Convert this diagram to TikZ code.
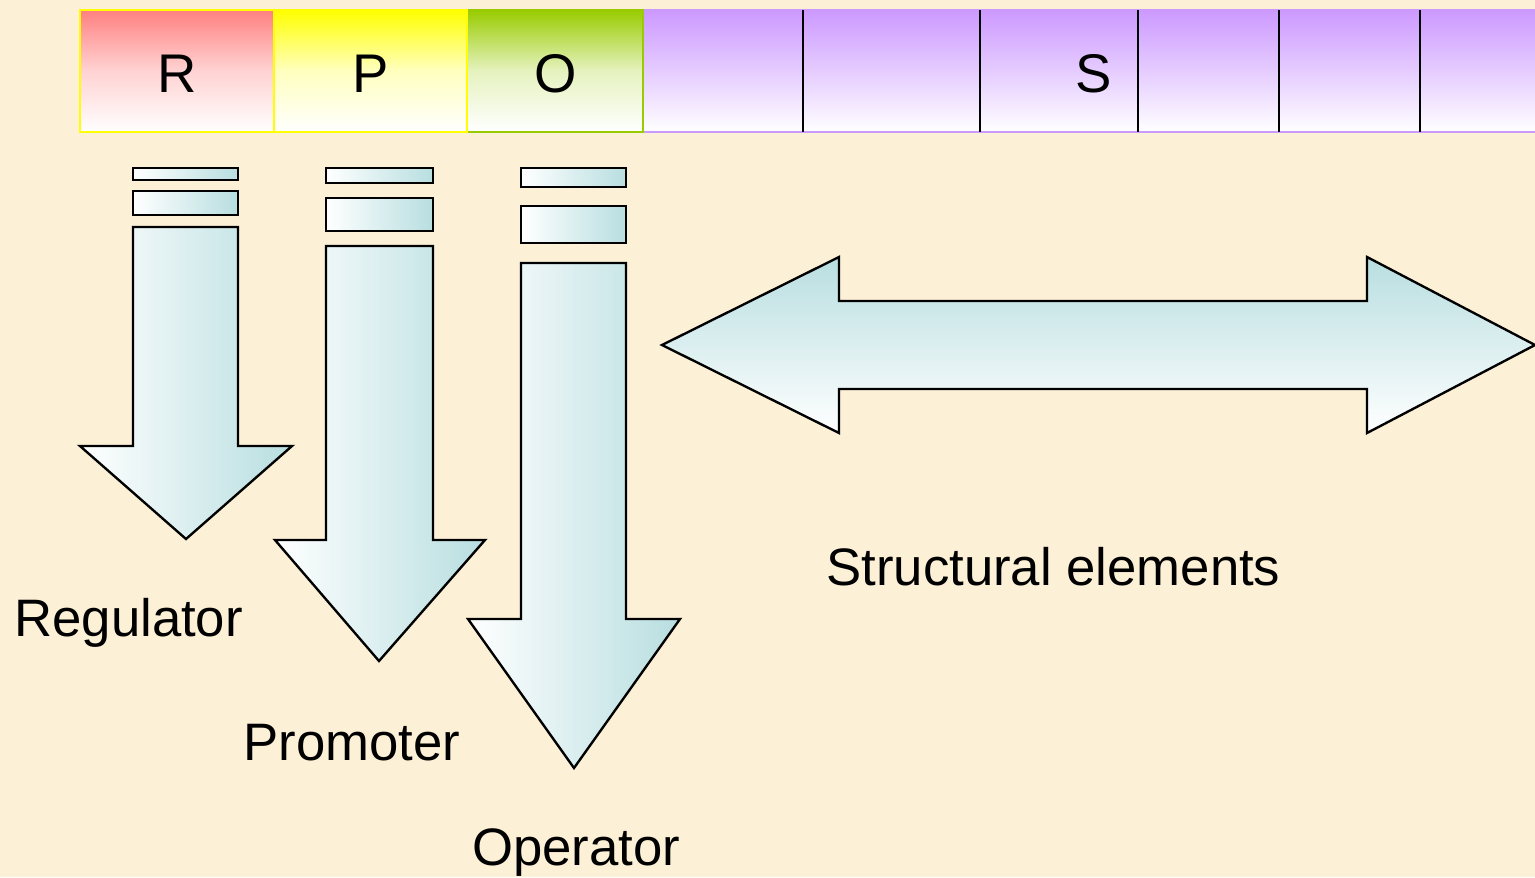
\documentclass[tikz,border=0pt]{standalone}
\usepackage{fontspec}
\setmainfont{Liberation Sans}
\definecolor{bgc}{RGB}{252,240,214}
\definecolor{rc}{RGB}{255,128,128}
\definecolor{yc}{RGB}{255,255,0}
\definecolor{gc}{RGB}{153,204,0}
\definecolor{pc}{RGB}{204,153,255}
\definecolor{tc}{RGB}{184,222,224}
\tikzset{
  seg/.style={line width=1.6pt},
  darrow/.style={draw=black, line width=1.35pt, line join=miter, left color=white, right color=tc},
  harrow/.style={draw=black, line width=1.35pt, line join=miter, top color=tc, bottom color=white},
  lbl/.style={font=\fontsize{30}{36}\selectfont, anchor=base west, inner sep=0pt},
  letter/.style={font=\fontsize{31}{37}\selectfont, anchor=base, inner sep=0pt},
}
\begin{document}
\begin{tikzpicture}[x=0.02cm,y=-0.02cm]
\useasboundingbox (0,0) rectangle (1535,877);
\fill[bgc] (0,0) rectangle (1535,877);
% top bar
\path[top color=pc, bottom color=white] (643,10) rectangle (1545,132);
\draw[pc, seg] (643,132) -- (1545,132);
\draw[pc, seg] (1545,10) -- (643,10) -- (643,132);
\foreach \x in {803,980,1138,1279,1420} \draw[black, line width=1.4pt] (\x,10) -- (\x,132);
\path[draw=gc, seg, top color=gc, bottom color=white, middle color=gc!25] (467,10) rectangle (643,132);
\path[draw=yc, seg, top color=yc, bottom color=white, middle color=yc!25] (274,10) rectangle (467,132);
\path[draw=yc, seg, top color=rc, bottom color=white, middle color=rc!35] (80,10) rectangle (274,132);
\node[letter] (R) at (177,92) {R};
\node[letter] (P) at (371,92) {P};
\node[letter] (O) at (556,92) {O};
\node[letter] (S) at (1094,92) {S};
% Regulator arrow
\path[darrow] (133,168) rectangle (238,180);
\path[darrow] (133,191) rectangle (238,215);
\path[darrow] (133,227) -- (238,227) -- (238,446) -- (292,446) -- (186,539) -- (80,446) -- (133,446) -- cycle;
% Promoter arrow
\path[darrow] (326,168) rectangle (433,183);
\path[darrow] (326,198) rectangle (433,231);
\path[darrow] (326,246) -- (433,246) -- (433,540) -- (485,540) -- (379,661) -- (275,540) -- (326,540) -- cycle;
% Operator arrow
\path[darrow] (521,168) rectangle (626,187);
\path[darrow] (521,206) rectangle (626,243);
\path[darrow] (521,263) -- (626,263) -- (626,619) -- (680,619) -- (574,768) -- (468,619) -- (521,619) -- cycle;
% double arrow
\path[harrow] (662,345) -- (839,257) -- (839,301) -- (1367,301) -- (1367,257) -- (1535,345) -- (1367,433) -- (1367,389) -- (839,389) -- (839,433) -- cycle;
% labels
\node[lbl] (reg) at (14,636) {Regulator};
\node[lbl] (pro) at (243,760) {Promoter};
\node[lbl] (ope) at (472,865) {Operator};
\node[lbl] (str) at (826,585) {Structural elements};
\end{tikzpicture}
\end{document}
